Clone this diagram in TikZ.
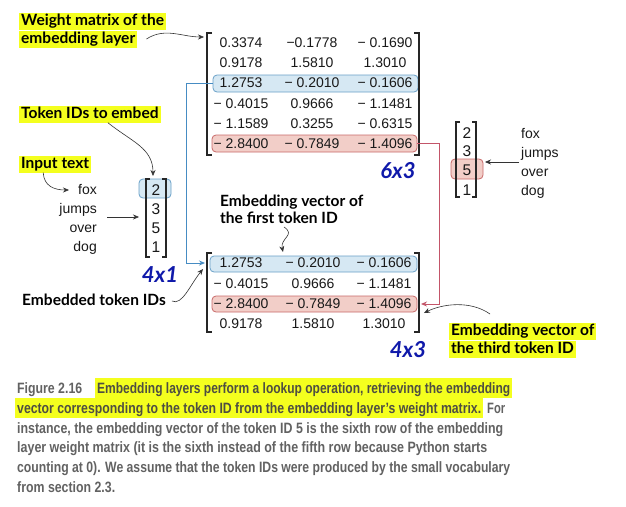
\documentclass[tikz,border=0pt]{standalone}
\usepackage{fontspec}
\usepackage{graphicx}
\setmainfont{Liberation Sans}
\newfontfamily\numfont{Liberation Sans}
\newfontfamily\lblfont{Lato}
\newfontfamily\handfont{Lato}
\newfontfamily\capfont{Liberation Sans}[FakeStretch=0.85]
\usetikzlibrary{arrows.meta}
\definecolor{hlyellow}{RGB}{244,255,30}
\definecolor{capgray}{RGB}{98,98,98}
\definecolor{capdark}{RGB}{78,78,66}
\definecolor{boxblue}{RGB}{105,160,200}
\definecolor{fillblue}{RGB}{214,232,243}
\definecolor{boxred}{RGB}{200,105,105}
\definecolor{fillred}{RGB}{242,206,200}
\definecolor{conblue}{RGB}{70,140,195}
\definecolor{conred}{RGB}{195,85,105}
\definecolor{handblue}{RGB}{15,25,170}
\newcommand{\fitw}[2]{\resizebox{#1}{\height}{#2}}
\begin{document}
\begin{tikzpicture}[x=1pt,y=-1pt,
  num/.style={font=\numfont\fontsize{14}{16}\selectfont, inner sep=0pt, text=black!90},
  vnum/.style={font=\numfont\fontsize{15.5}{17}\selectfont, inner sep=0pt, text=black!90},
  word/.style={font=\numfont\fontsize{14}{16}\selectfont, inner sep=0pt, text=black!90},
  lbl/.style={font=\lblfont\bfseries\fontsize{15.5}{18}\selectfont, inner xsep=2pt, inner ysep=0.5pt, text height=12pt, text depth=4pt, anchor=base west, text=black},
  hl/.style={lbl, fill=hlyellow},
  captxt/.style={font=\capfont\bfseries\fontsize{15}{17}\selectfont, inner xsep=2pt, inner ysep=0pt, text height=15pt, text depth=5pt, anchor=base west, text=capgray},
  caphl/.style={captxt, fill=hlyellow, text=capdark},
  bbox/.style={draw=boxblue, fill=fillblue, rounded corners=4pt, line width=0.8pt},
  rbox/.style={draw=boxred, fill=fillred, rounded corners=4pt, line width=0.8pt},
  brk/.style={line width=1.3pt, black!85},
  arr/.style={-{Stealth[length=6pt,width=5pt]}, line width=0.6pt, black!80},
  bcon/.style={-{Stealth[length=6pt,width=5pt]}, line width=0.9pt, conblue},
  rcon/.style={-{Stealth[length=6pt,width=5pt]}, line width=0.9pt, conred},
  hand/.style={font=\handfont\bfseries\itshape\fontsize{22}{22}\selectfont, text=handblue, inner sep=0pt}
]
\fill[white] (0,0) rectangle (626,506);
\useasboundingbox (0,0) rectangle (626,506);

% ---------- highlight boxes ----------
\node[bbox, minimum width=205pt, minimum height=17pt] (selA) at (315.5,83.5) {};
\node[rbox, minimum width=205pt, minimum height=17pt] (selB) at (314.5,143.5) {};
\node[bbox, minimum width=207pt, minimum height=16pt] (selC) at (313.5,264) {};
\node[rbox, minimum width=205pt, minimum height=16pt] (selD) at (314.5,304) {};
\node[bbox, minimum width=32pt, minimum height=19pt] (selE) at (155,188.5) {};
\node[rbox, minimum width=32pt, minimum height=20pt] (selF) at (467,169) {};

% ---------- weight matrix ----------
\draw[brk] (212,33) -- (207,33) -- (207,155) -- (212,155);
\draw[brk] (414,33) -- (419,33) -- (419,155) -- (414,155);
\foreach \ri/\yy/\a/\b/\c in {1/43/0.3374/−0.1778/− 0.1690, 2/63/0.9178/1.5810/1.3010, 3/83/1.2753/− 0.2010/− 0.1606, 4/104/− 0.4015/0.9666/− 1.1481, 5/124/− 1.1589/0.3255/− 0.6315, 6/144/− 2.8400/− 0.7849/− 1.4096}
{
  \node[num] (w\ri-a) at (241,\yy) {\a};
  \node[num] (w\ri-b) at (312,\yy) {\b};
  \node[num] (w\ri-c) at (385,\yy) {\c};
}

% ---------- embedded matrix ----------
\draw[brk] (212,253) -- (207,253) -- (207,332) -- (212,332);
\draw[brk] (414,253) -- (419,253) -- (419,332) -- (414,332);
\foreach \ri/\yy/\a/\b/\c in {1/263/1.2753/− 0.2010/− 0.1606, 2/284/− 0.4015/0.9666/− 1.1481, 3/304/− 2.8400/− 0.7849/− 1.4096, 4/324/0.9178/1.5810/1.3010}
{
  \node[num] (e\ri-a) at (241,\yy) {\a};
  \node[num] (e\ri-b) at (313,\yy) {\b};
  \node[num] (e\ri-c) at (384,\yy) {\c};
}

% ---------- left token vector ----------
\draw[brk] (150,179) -- (146,179) -- (146,257) -- (150,257);
\draw[brk] (162,179) -- (166,179) -- (166,257) -- (162,257);
\node[vnum] (v1) at (156,190) {2};
\node[vnum] (v2) at (156,209) {3};
\node[vnum] (v3) at (156,228) {5};
\node[vnum] (v4) at (156,247) {1};
\node[word, anchor=base east] (lfox) at (97,194) {fox};
\node[word, anchor=base east] (ljumps) at (97,213) {jumps};
\node[word, anchor=base east] (lover) at (97,232) {over};
\node[word, anchor=base east] (ldog) at (97,251) {dog};

% ---------- right token vector ----------
\draw[brk] (460,122) -- (456,122) -- (456,197) -- (460,197);
\draw[brk] (472,122) -- (476,122) -- (476,197) -- (472,197);
\node[vnum] (u1) at (467,133) {2};
\node[vnum] (u2) at (467,151) {3};
\node[vnum] (u3) at (467,170) {5};
\node[vnum] (u4) at (467,190) {1};
\node[word, anchor=base west] (rfox) at (521,138) {fox};
\node[word, anchor=base west] (rjumps) at (521,157) {jumps};
\node[word, anchor=base west] (rover) at (521,176) {over};
\node[word, anchor=base west] (rdog) at (521,195) {dog};

% ---------- labels ----------
\node[hl] (wm1) at (19,25) {Weight matrix of the};
\node[hl] (wm2) at (19,43) {embedding layer};
\node[hl] (tok) at (19,118) {Token IDs to embed};
\node[hl] (inp) at (19,168) {Input text};
\node[lbl] (emb) at (20,305) {Embedded token IDs};
\node[lbl] (ft1) at (218,206) {Embedding vector of};
\node[lbl] (ft2) at (218,223) {the first token ID};
\node[hl] (tt1) at (449,335) {Embedding vector of};
\node[hl] (tt2) at (449,353) {the third token ID};

% ---------- handwritten sizes ----------
\node[hand] (h63) at (398,171) {6x3};
\node[hand] (h41) at (160,275) {4x1};
\node[hand] (h43) at (408,350) {4x3};

% ---------- coordinates for free ends ----------
\coordinate (wmin) at (204,37);
\coordinate (vtop) at (153,176);
\coordinate (fxin) at (69,190);
\coordinate (lvs) at (107,217);
\coordinate (lvin) at (139,217);
\coordinate (rvs) at (519,162);
\coordinate (rvin) at (485,162);
\coordinate (m2in) at (205,263);
\coordinate (m2in3) at (421,304);
\coordinate (m2lin) at (203,269);
\coordinate (fts) at (284,227);
\coordinate (fte) at (283,252);
\coordinate (tts) at (490,314);
\coordinate (tte) at (424,313);

% ---------- connectors ----------
\draw[arr] ([xshift=9pt]wm2.east) .. controls (165,27) and (182,37) .. (wmin);
\draw[arr] ([xshift=18pt]tok.south) .. controls (132,142) and (153,148) .. (vtop);
\draw[arr] ([xshift=-12pt]inp.south) .. controls (44,186) and (54,190) .. (fxin);
\draw[arr] (lvs) -- (lvin);
\draw[arr] (rvs) -- (rvin);
\draw[arr] ([xshift=4pt]emb.east) .. controls (182,306) and (190,285) .. (m2lin);
\draw[arr] (fts) .. controls (296,235) and (280,238) .. (fte);
\draw[arr] (tts) .. controls (470,300) and (442,304) .. (tte);
\draw[bcon] (selA.west) -- ++(-26,0) |- (m2in);
\draw[rcon] (selB.east) -- ++(22,0) |- (m2in3);

% ---------- caption ----------
\node[captxt] (c1a) at (15,393) {\fitw{65pt}{Figure 2.16}};
\node[caphl] (c1b) at (95,393) {\fitw{413pt}{Embedding layers perform a lookup operation, retrieving the embedding}};
\node[caphl] (c2a) at (15,413) {\fitw{464pt}{vector corresponding to the token ID from the embedding layer’s weight matrix.}};
\node[captxt] (c2b) at (485,413) {\fitw{18pt}{For}};
\node[captxt] (c3) at (15,433) {\fitw{486pt}{instance, the embedding vector of the token ID 5 is the sixth row of the embedding}};
\node[captxt] (c4) at (15,452) {\fitw{470pt}{layer weight matrix (it is the sixth instead of the fifth row because Python starts}};
\node[captxt] (c5) at (15,472) {\fitw{493pt}{counting at 0). We assume that the token IDs were produced by the small vocabulary}};
\node[captxt] (c6) at (15,492) {\fitw{98pt}{from section 2.3.}};
\end{tikzpicture}
\end{document}
